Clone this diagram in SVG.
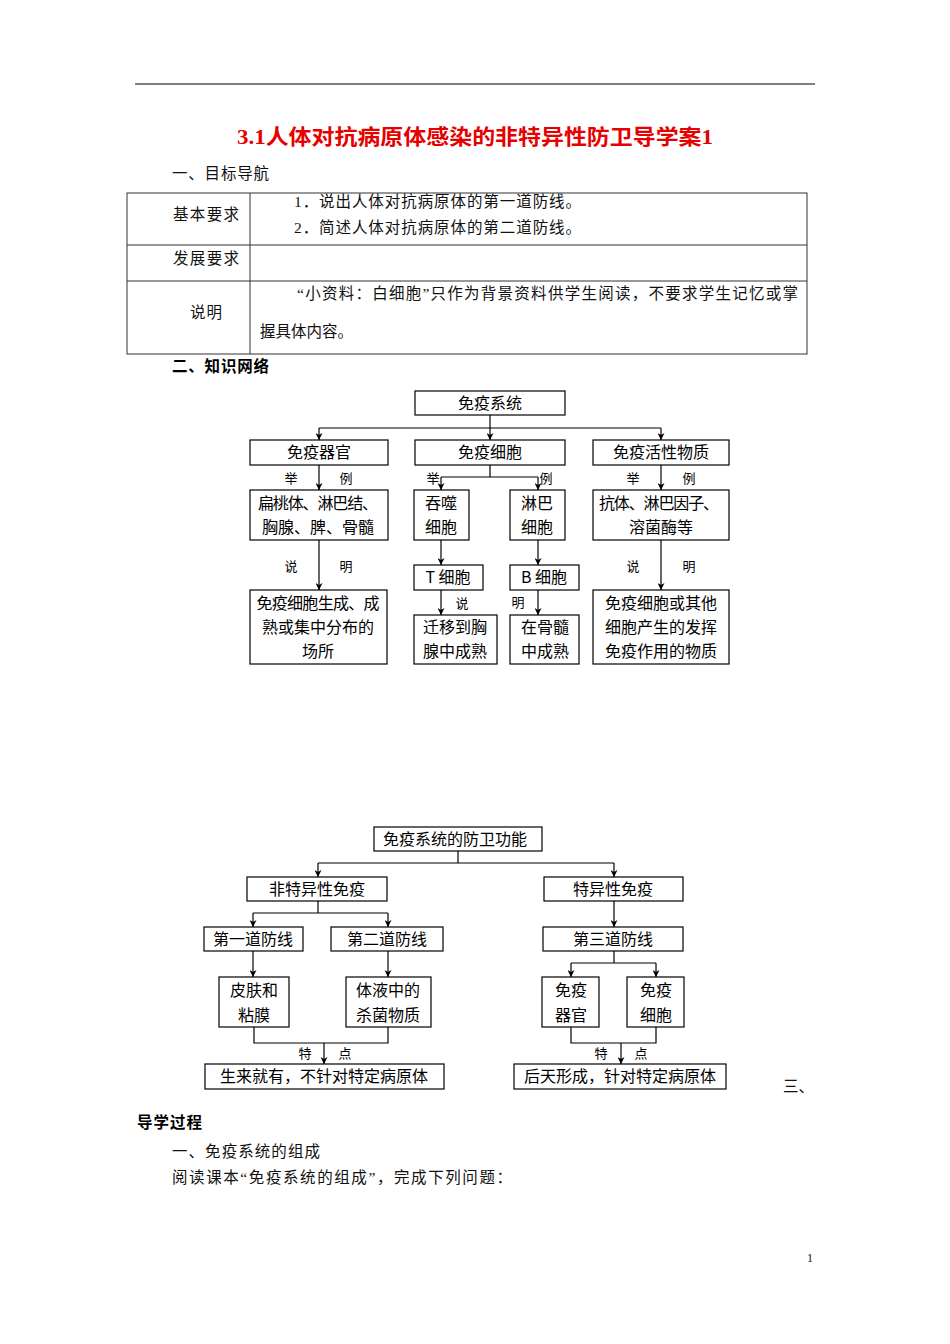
<svg xmlns="http://www.w3.org/2000/svg" width="950" height="1344" viewBox="0 0 950 1344">
<style>
.body{font-family:"Liberation Serif","Noto Sans CJK SC",serif;font-size:15.5px;fill:#111}
.bold{font-family:"Liberation Sans","Noto Sans CJK SC",sans-serif;font-size:15.5px;font-weight:bold;fill:#000}
.title{font-family:"Liberation Serif","Noto Sans CJK SC",serif;font-size:21px;font-weight:bold;fill:#e60000}
.bx{fill:#fff;stroke:#000;stroke-width:1.2}
.t{font-family:"Noto Sans CJK SC","Liberation Sans",sans-serif;font-size:16px;fill:#000;text-anchor:middle}
.s{font-family:"Noto Sans CJK SC","Liberation Sans",sans-serif;font-size:13px;fill:#000;text-anchor:middle}
.ln{fill:none;stroke:#000;stroke-width:1.2}
.ar{fill:none;stroke:#000;stroke-width:1.2;marker-end:url(#ah)}
.tb{fill:none;stroke:#333;stroke-width:1}
</style>
<defs>
<marker id="ah" viewBox="0 0 10 10" refX="10" refY="5" markerWidth="8" markerHeight="7" markerUnits="userSpaceOnUse" orient="auto">
<path d="M0,0 L10,5 L0,10 L3,5 z" fill="#000"/>
</marker>
</defs>

<!-- header -->
<line x1="135" y1="84" x2="815" y2="84" stroke="#000" stroke-width="1.2"/>
<text class="title" x="237" y="144" textLength="476" lengthAdjust="spacingAndGlyphs">3.1人体对抗病原体感染的非特异性防卫导学案1</text>
<text class="body" x="172" y="179" textLength="97">一、目标导航</text>

<!-- table -->
<g id="table">
<rect x="127" y="193" width="680" height="161" class="tb"/>
<line x1="250" y1="193" x2="250" y2="354" class="tb"/>
<line x1="127" y1="245" x2="807" y2="245" class="tb"/>
<line x1="127" y1="281" x2="807" y2="281" class="tb"/>
<text class="body" x="173" y="220" textLength="66">基本要求</text>
<text class="body" x="294" y="207" textLength="287">1．说出人体对抗病原体的第一道防线。</text>
<text class="body" x="294" y="233" textLength="287">2．简述人体对抗病原体的第二道防线。</text>
<text class="body" x="173" y="264" textLength="66">发展要求</text>
<text class="body" x="190" y="318" textLength="32">说明</text>
<text class="body" x="297" y="299" textLength="501">“小资料：白细胞”只作为背景资料供学生阅读，不要求学生记忆或掌</text>
<text class="body" x="260" y="337" textLength="93">握具体内容。</text>
</g>

<text class="bold" x="172" y="372" textLength="97">二、知识网络</text>

<!-- diagram 1 connectors -->
<g id="connectors1">
<path class="ar" d="M490,415 V440"/>
<path class="ln" d="M319,428 H661"/>
<path class="ar" d="M319,428 V440"/>
<path class="ar" d="M661,428 V440"/>
<path class="ar" d="M319,465 V490"/>
<path class="ln" d="M490,465 V477 M441,477 H538"/>
<path class="ar" d="M441,477 V490"/>
<path class="ar" d="M538,477 V490"/>
<path class="ar" d="M661,465 V490"/>
<path class="ar" d="M319,540 V590"/>
<path class="ar" d="M441,540 V565"/>
<path class="ar" d="M538,540 V565"/>
<path class="ar" d="M661,540 V590"/>
<path class="ar" d="M441,590 V615"/>
<path class="ar" d="M538,590 V615"/>
<text class="s" x="291" y="483">举</text>
<text class="s" x="346" y="483">例</text>
<text class="s" x="433" y="483">举</text>
<text class="s" x="546" y="483">例</text>
<text class="s" x="633" y="483">举</text>
<text class="s" x="689" y="483">例</text>
<text class="s" x="291" y="571">说</text>
<text class="s" x="346" y="571">明</text>
<text class="s" x="633" y="571">说</text>
<text class="s" x="689" y="571">明</text>
<text class="s" x="462" y="608">说</text>
<text class="s" x="518" y="607">明</text>
</g>

<g id="n-sys"><rect class="bx" x="415" y="391" width="150" height="24"/><text class="t" x="490" y="409">免疫系统</text></g>
<g id="n-organ"><rect class="bx" x="250" y="440" width="138" height="25"/><text class="t" x="319" y="458">免疫器官</text></g>
<g id="n-cell"><rect class="bx" x="415" y="440" width="150" height="25"/><text class="t" x="490" y="458">免疫细胞</text></g>
<g id="n-active"><rect class="bx" x="593" y="440" width="136" height="25"/><text class="t" x="661" y="458">免疫活性物质</text></g>
<g id="n-organ-ex"><rect class="bx" x="250" y="490" width="138" height="50"/><text class="t" x="318" y="509" textLength="120">扁桃体、淋巴结、</text><text class="t" x="318" y="533">胸腺、脾、骨髓</text></g>
<g id="n-phago"><rect class="bx" x="414" y="490" width="55" height="50"/><text class="t" x="441" y="509">吞噬</text><text class="t" x="441" y="533">细胞</text></g>
<g id="n-lymph"><rect class="bx" x="510" y="490" width="55" height="50"/><text class="t" x="537" y="509">淋巴</text><text class="t" x="537" y="533">细胞</text></g>
<g id="n-active-ex"><rect class="bx" x="593" y="490" width="136" height="50"/><text class="t" x="659" y="509" textLength="120">抗体、淋巴因子、</text><text class="t" x="661" y="533">溶菌酶等</text></g>
<g id="n-tcell"><rect class="bx" x="414" y="565" width="69" height="25"/><text class="t" x="448" y="583">T 细胞</text></g>
<g id="n-bcell"><rect class="bx" x="510" y="565" width="69" height="25"/><text class="t" x="544" y="583">B 细胞</text></g>
<g id="n-organ-desc"><rect class="bx" x="250" y="590" width="137" height="74"/><text class="t" x="318" y="609" textLength="123">免疫细胞生成、成</text><text class="t" x="318" y="633">熟或集中分布的</text><text class="t" x="318" y="657">场所</text></g>
<g id="n-tdesc"><rect class="bx" x="414" y="615" width="83" height="49"/><text class="t" x="455" y="633">迁移到胸</text><text class="t" x="455" y="657">腺中成熟</text></g>
<g id="n-bdesc"><rect class="bx" x="510" y="615" width="69" height="49"/><text class="t" x="545" y="633">在骨髓</text><text class="t" x="545" y="657">中成熟</text></g>
<g id="n-active-desc"><rect class="bx" x="593" y="590" width="136" height="74"/><text class="t" x="661" y="609">免疫细胞或其他</text><text class="t" x="661" y="633">细胞产生的发挥</text><text class="t" x="661" y="657">免疫作用的物质</text></g>

<!-- diagram 2 connectors -->
<g id="connectors2">
<path class="ln" d="M458,851 V863 M318,863 H614"/>
<path class="ar" d="M318,863 V877"/>
<path class="ar" d="M614,863 V877"/>
<path class="ln" d="M318,901 V913 M253,913 H388"/>
<path class="ar" d="M253,913 V927"/>
<path class="ar" d="M388,913 V927"/>
<path class="ar" d="M253,951 V977"/>
<path class="ar" d="M388,951 V977"/>
<path class="ln" d="M254,1027 V1043 H388 V1027"/>
<path class="ar" d="M324,1043 V1064"/>
<path class="ar" d="M614,901 V927"/>
<path class="ln" d="M614,951 V963 M571,963 H656"/>
<path class="ar" d="M571,963 V977"/>
<path class="ar" d="M656,963 V977"/>
<path class="ln" d="M571,1027 V1043 H656 V1027"/>
<path class="ar" d="M621,1043 V1064"/>
<text class="s" x="305" y="1058">特</text>
<text class="s" x="345" y="1058">点</text>
<text class="s" x="601" y="1058">特</text>
<text class="s" x="641" y="1058">点</text>
</g>

<g id="m-root"><rect class="bx" x="374" y="827" width="168" height="24"/><text class="t" x="455" y="845">免疫系统的防卫功能</text></g>
<g id="m-nonspec"><rect class="bx" x="247" y="877" width="140" height="24"/><text class="t" x="317" y="895">非特异性免疫</text></g>
<g id="m-spec"><rect class="bx" x="544" y="877" width="139" height="24"/><text class="t" x="613" y="895">特异性免疫</text></g>
<g id="m-line1"><rect class="bx" x="204" y="927" width="99" height="24"/><text class="t" x="253" y="945">第一道防线</text></g>
<g id="m-line2"><rect class="bx" x="331" y="927" width="112" height="24"/><text class="t" x="387" y="945">第二道防线</text></g>
<g id="m-line3"><rect class="bx" x="543" y="927" width="140" height="24"/><text class="t" x="613" y="945">第三道防线</text></g>
<g id="m-skin"><rect class="bx" x="219" y="977" width="70" height="50"/><text class="t" x="254" y="996">皮肤和</text><text class="t" x="254" y="1021">粘膜</text></g>
<g id="m-fluid"><rect class="bx" x="346" y="977" width="85" height="50"/><text class="t" x="388" y="996">体液中的</text><text class="t" x="388" y="1021">杀菌物质</text></g>
<g id="m-iorgan"><rect class="bx" x="542" y="977" width="57" height="50"/><text class="t" x="571" y="996">免疫</text><text class="t" x="571" y="1021">器官</text></g>
<g id="m-icell"><rect class="bx" x="627" y="977" width="57" height="50"/><text class="t" x="656" y="996">免疫</text><text class="t" x="656" y="1021">细胞</text></g>
<g id="m-innate"><rect class="bx" x="205" y="1064" width="239" height="25"/><text class="t" x="324" y="1082">生来就有，不针对特定病原体</text></g>
<g id="m-acquired"><rect class="bx" x="514" y="1064" width="212" height="25"/><text class="t" x="620" y="1082">后天形成，针对特定病原体</text></g>

<text class="body" x="783" y="1092">三、</text>
<text class="bold" x="137" y="1128" textLength="65">导学过程</text>
<text class="body" x="172" y="1157" textLength="148">一、免疫系统的组成</text>
<text class="body" x="172" y="1183" textLength="340">阅读课本“免疫系统的组成”，完成下列问题：</text>
<text class="body" x="807" y="1262" style="font-size:12px">1</text>
</svg>
